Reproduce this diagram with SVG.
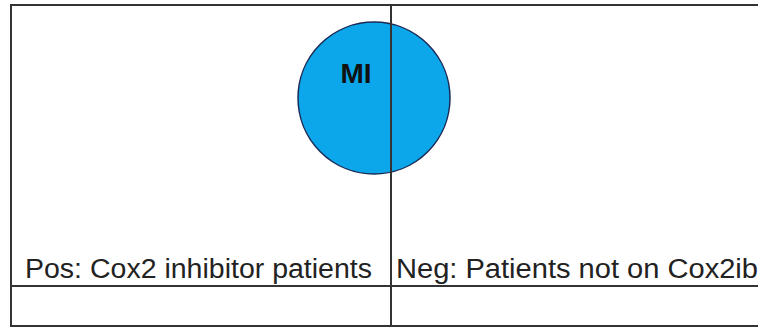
<svg xmlns="http://www.w3.org/2000/svg" width="758" height="328" viewBox="0 0 758 328">
<style>
.ln{stroke:#333;stroke-width:2;fill:none}
.lbl{font-family:"Liberation Sans",Arial,sans-serif;font-size:27px;fill:#222}
</style>
<rect width="758" height="328" fill="#fff"/>
<g id="mi">
<circle cx="374" cy="98" r="76" fill="#0ba7ea" stroke="#1b2a55" stroke-width="1.5"/>
<text x="356" y="83" text-anchor="middle" font-family="Liberation Sans,Arial,sans-serif" font-weight="bold" font-size="28" fill="#111">MI</text>
</g>
<g id="grid">
<path class="ln" d="M760 5 H11 V326 H760"/>
<path class="ln" d="M11 286 H760"/>
<path class="ln" d="M391 5 V326"/>
</g>
<g id="pos"><text class="lbl" x="25" y="278" textLength="347" lengthAdjust="spacingAndGlyphs">Pos: Cox2 inhibitor patients</text></g>
<g id="neg"><text class="lbl" x="396" y="278" textLength="362" lengthAdjust="spacingAndGlyphs">Neg: Patients not on Cox2ib</text></g>
</svg>
